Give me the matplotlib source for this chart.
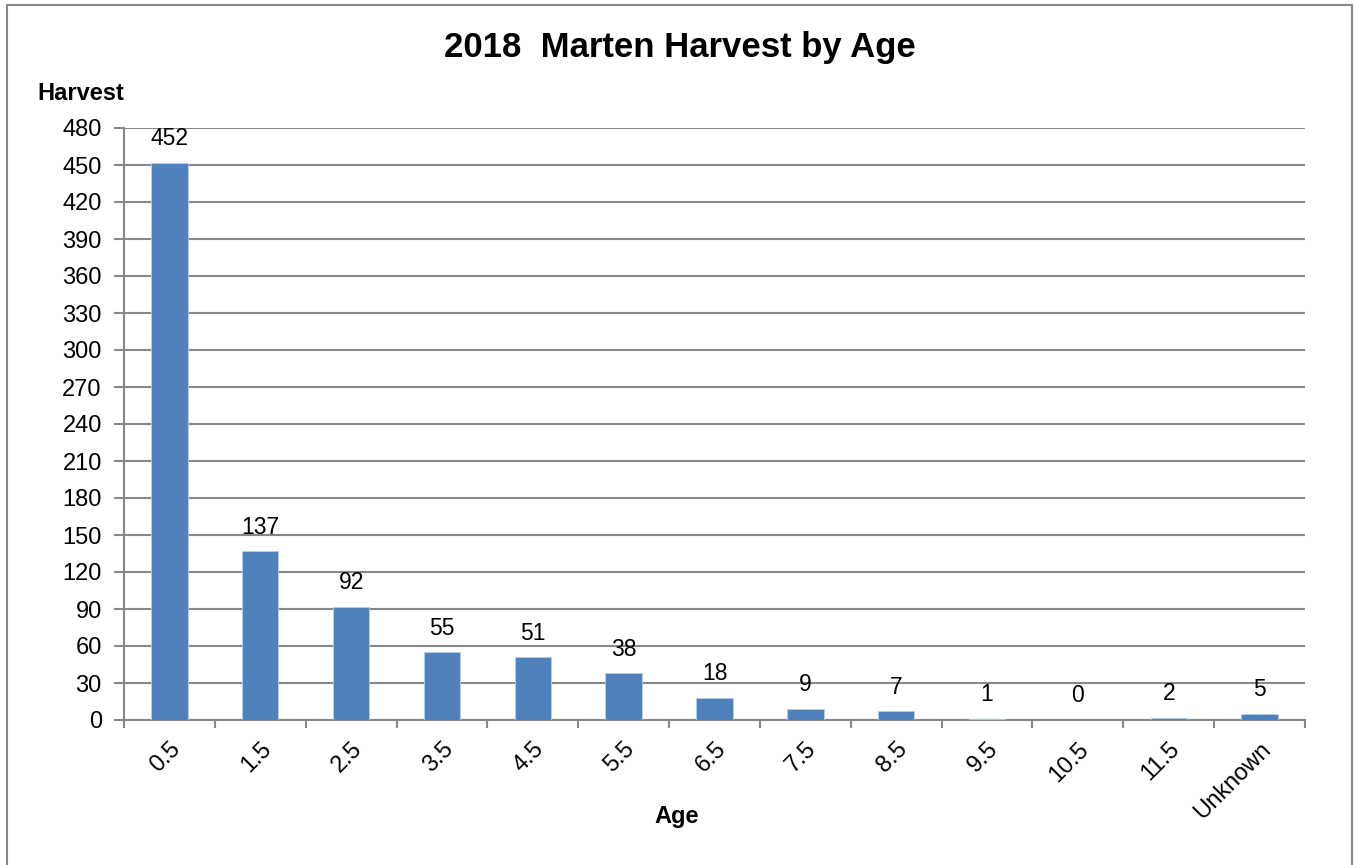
import numpy as np
import matplotlib.pyplot as plt
from matplotlib.patches import Rectangle

plt.rcParams['font.family'] = ['Liberation Sans', 'DejaVu Sans']

ages = ['0.5', '1.5', '2.5', '3.5', '4.5', '5.5', '6.5', '7.5', '8.5',
        '9.5', '10.5', '11.5', 'Unknown']
harvest = [452, 137, 92, 55, 51, 38, 18, 9, 7, 1, 0, 2, 5]

fig = plt.figure(figsize=(13.54, 8.65), dpi=100)
ax = fig.add_axes([124/1354, 1 - 720/865, (1305-124)/1354, (720-128)/865])

# outer chart border
fig.patches.append(Rectangle((7/1354, -0.05), (1352-7)/1354, 1 - 5/865 + 0.05,
                             transform=fig.transFigure, fill=False,
                             edgecolor='#888888', linewidth=1.5))

x = np.arange(len(ages))
ax.bar(x, harvest, width=0.4, color='#4F81BD', edgecolor='#B9CDE5', linewidth=0.6, zorder=3)

for xi, v in zip(x, harvest):
    ax.annotate(str(v), (xi, v), xytext=(0, 9), textcoords='offset points',
                ha='center', va='bottom', fontsize=16.5)

ax.set_xlim(-0.5, len(ages) - 0.5)
ax.set_ylim(0, 480)
ax.set_yticks(np.arange(0, 481, 30))
ax.yaxis.grid(True, color='#888888', linewidth=1.5, zorder=0)

ax.set_xticks(x)
ax.set_xticklabels(ages, rotation=45, ha='right', va='top', rotation_mode='anchor', fontsize=17)
ax.set_xticks(np.arange(-0.5, len(ages), 1), minor=True)
ax.tick_params(axis='x', which='major', length=0, pad=13)
ax.tick_params(axis='x', which='minor', length=6, width=1.5, color='#888888')
ax.tick_params(axis='y', length=7, width=1.5, color='#888888', labelsize=17, pad=9)

for s in ['top', 'right']:
    ax.spines[s].set_visible(False)
for s in ['left', 'bottom']:
    ax.spines[s].set_color('#888888')
    ax.spines[s].set_linewidth(1.5)

fig.text(680/1354, 1 - 47/865, '2018  Marten Harvest by Age', ha='center', va='center',
         fontsize=25, fontweight='bold')
fig.text(37/1354, 1 - 94/865, 'Harvest', ha='left', va='center', fontsize=17, fontweight='bold')
fig.text(677/1354, 1 - 816/865, 'Age', ha='center', va='center', fontsize=17, fontweight='bold')

fig.savefig('out.png', dpi=100)
